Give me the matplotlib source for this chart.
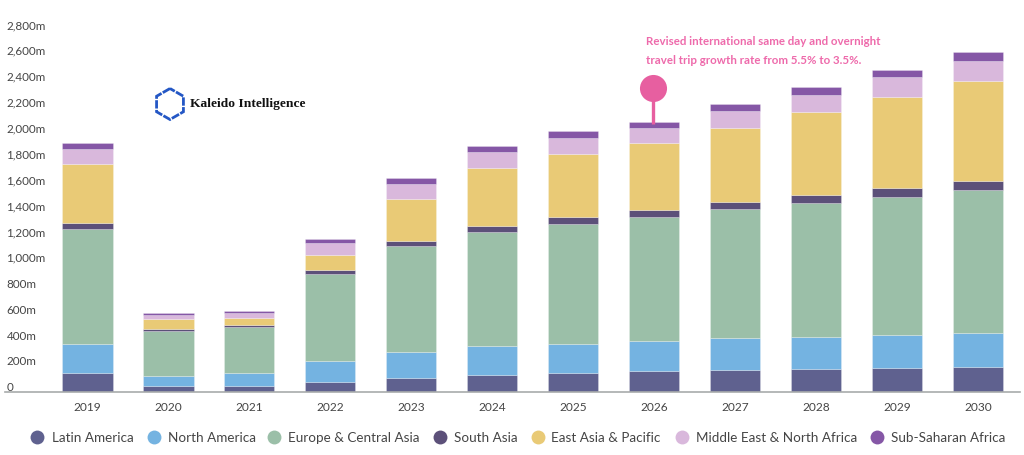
import matplotlib
matplotlib.use("Agg")
import matplotlib.pyplot as plt
from matplotlib.lines import Line2D
from matplotlib.patches import RegularPolygon

W, H = 1024, 456

years = ["2019", "2020", "2021", "2022", "2023", "2024",
         "2025", "2026", "2027", "2028", "2029", "2030"]

latin_america = [149, 52, 46, 82, 108, 131, 152, 162, 173, 180, 191, 196]
north_america = [227, 77, 103, 160, 206, 224, 224, 235, 245, 250, 255, 265]
europe_central = [886, 345, 356, 675, 819, 886, 928, 959, 997, 1036, 1067, 1100]
south_asia = [49, 15, 15, 31, 34, 44, 52, 54, 59, 59, 67, 70]
east_asia = [451, 77, 52, 113, 330, 448, 484, 518, 572, 639, 704, 773]
middle_east = [121, 34, 44, 93, 116, 126, 129, 111, 126, 137, 149, 160]
sub_saharan = [41, 10, 13, 34, 41, 41, 49, 52, 54, 59, 59, 64]

series = [latin_america, north_america, europe_central, south_asia,
          east_asia, middle_east, sub_saharan]
names = ["Latin America", "North America", "Europe & Central Asia", "South Asia",
         "East Asia & Pacific", "Middle East & North Africa", "Sub-Saharan Africa"]
colors = ["#5F618F", "#74B3E1", "#9BBFA8", "#5C5079",
          "#E9CA76", "#D9B8DC", "#8557A6"]

yticks = list(range(0, 2801, 200))
ylabels = ["0"] + [f"{v:,}m" for v in yticks[1:]]

TEXT = "#454545"
PINK = "#E75FA0"
FONT = "Lato"


# pixel helpers, image coords have y going down
def fx(px):
    return px / W


def fy(py):
    return 1 - py / H


fig = plt.figure(figsize=(W / 100, H / 100), dpi=100)
ax = fig.add_axes([fx(5), fy(393.3), (1020 - 5) / W, (393.3 - 31) / H])

bottom = [0] * len(years)
for vals, col in zip(series, colors):
    ax.bar(range(len(years)), vals, width=0.62, bottom=bottom, color=col,
           edgecolor=(1, 1, 1, 0.35), linewidth=0.5)
    bottom = [b + v for b, v in zip(bottom, vals)]

ax.set_xlim(-1.019, 11.52)
ax.set_ylim(0, 2800)
ax.set_xticks(range(len(years)))
ax.set_xticklabels(years, fontsize=8.6, color=TEXT, family=FONT)
ax.set_yticks(yticks)
ax.set_yticklabels(ylabels, fontsize=8.4, color=TEXT, family=FONT, ha="left", va="bottom")
ax.tick_params(axis="x", length=0, pad=6)
ax.tick_params(axis="y", length=0, pad=-1)
for s in ["top", "left", "right"]:
    ax.spines[s].set_visible(False)
ax.spines["bottom"].set_color("#A8ABAB")
ax.spines["bottom"].set_linewidth(1.2)

# pin on 2026 bar
pin_x = 6.99
ax.plot([pin_x, pin_x], [bottom[7] - 15, 2350], color=PINK, lw=2.4, clip_on=False, zorder=5,
        solid_capstyle="butt")
ax.plot([pin_x], [2350], "o", color=PINK, ms=19.5, mew=0, clip_on=False, zorder=6)

fig.text(fx(646), fy(41.5), "Revised international same day and overnight",
         color="#EE6AAB", fontsize=8.3, family=FONT, weight="bold", va="center")
fig.text(fx(646), fy(60), "travel trip growth rate from 5.5% to 3.5%.",
         color="#EE6AAB", fontsize=8.3, family=FONT, weight="bold", va="center")

# logo
logo_ax = fig.add_axes([fx(150), fy(125), 40 / W, 40 / H])
logo_ax.set_xlim(-20, 20)
logo_ax.set_ylim(-20, 20)
logo_ax.axis("off")
logo_ax.add_patch(RegularPolygon((0, 0), 6, radius=15.5, fill=False, edgecolor="#2457C5",
                                 lw=2.0, linestyle=(0, (3.0, 0.5))))
fig.text(fx(190), fy(104), "Kaleido Intelligence", color="#111111", fontsize=9.7,
         family="Liberation Serif", weight="bold", va="center")

# legend placed by hand to keep the original gaps
dot_x = [37, 154, 274, 440, 538, 682, 877]
label_x = [52, 168, 288, 454, 551, 696, 891]
for name, col, dx, lx in zip(names, colors, dot_x, label_x):
    fig.add_artist(Line2D([fx(dx)], [fy(438)], marker="o", ms=10, mew=0, color=col,
                          transform=fig.transFigure))
    fig.text(fx(lx), fy(438), name, color=TEXT, fontsize=9.7, family=FONT, va="center")

fig.savefig("out.png", dpi=100)
